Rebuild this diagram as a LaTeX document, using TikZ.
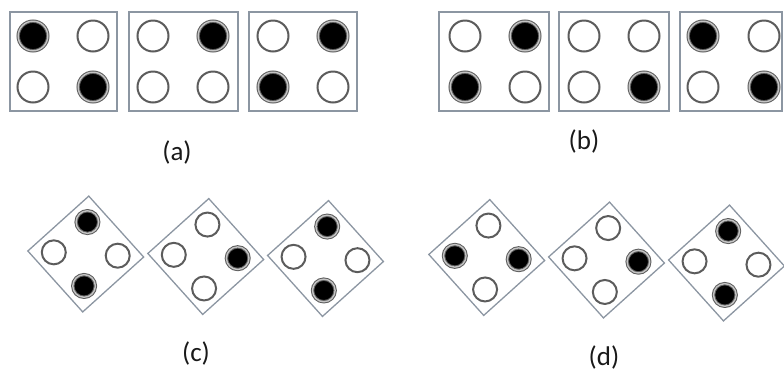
\documentclass[tikz,border=0pt]{standalone}
\usepackage{fontspec}
\setmainfont{Carlito}
\definecolor{framegray}{HTML}{8C96A2}
\definecolor{ringdark}{HTML}{5C5C5C}
\definecolor{ringlight}{HTML}{C4C4C4}
\begin{document}
\begin{tikzpicture}[x=1pt,y=-1pt,
  card/.style={draw=framegray, line width=1.5pt, inner sep=0pt,
    minimum width=#1, minimum height=99pt},
  diam/.style={draw=framegray, line width=1.3pt, inner sep=0pt,
    minimum size=82pt, rotate=42},
  holeE/.style={circle, inner sep=0pt, minimum size=#1, draw=ringdark,
    line width=2pt, fill=white},
  holeF/.style={circle, inner sep=0pt, minimum size=#1, fill=black,
    draw=ringdark, double=ringlight, double distance=1.4pt, line width=1pt},
  tag/.style={font=\fontsize{27}{32}\selectfont, text=black!90, inner sep=0pt}]
\useasboundingbox (0,0) rectangle (784,376);

% ---- row (a): three square cards ----
\node[card=107pt] (a1) at (63.5,61.5) {};
\node[holeF=29.6pt] (a1tl) at (33,36) {};
\node[holeE=31pt]   (a1tr) at (93,36) {};
\node[holeE=31pt]   (a1bl) at (33,87) {};
\node[holeF=29.6pt] (a1br) at (93,87) {};

\node[card=109pt] (a2) at (183.5,61.5) {};
\node[holeE=31pt]   (a2tl) at (153,36) {};
\node[holeF=29.6pt] (a2tr) at (213,36) {};
\node[holeE=31pt]   (a2bl) at (153,87) {};
\node[holeE=31pt]   (a2br) at (213,87) {};

\node[card=108pt] (a3) at (303,61.5) {};
\node[holeE=31pt]   (a3tl) at (273,36) {};
\node[holeF=29.6pt] (a3tr) at (333,36) {};
\node[holeF=29.6pt] (a3bl) at (273,87) {};
\node[holeE=31pt]   (a3br) at (333,87) {};

\node[tag] (la) at (177,152) {(a)};

% ---- row (b): three square cards ----
\node[card=110pt] (b1) at (494,61.5) {};
\node[holeE=31pt]   (b1tl) at (465,36) {};
\node[holeF=29.6pt] (b1tr) at (525,36) {};
\node[holeF=29.6pt] (b1bl) at (465,87) {};
\node[holeE=31pt]   (b1br) at (525,87) {};

\node[card=110pt] (b2) at (614,61.5) {};
\node[holeE=31pt]   (b2tl) at (584,36) {};
\node[holeE=31pt]   (b2tr) at (644,36) {};
\node[holeE=31pt]   (b2bl) at (584,87) {};
\node[holeF=29.6pt] (b2br) at (644,87) {};

\node[card=102pt] (b3) at (731,61.5) {};
\node[holeF=29.6pt] (b3tl) at (703,36) {};
\node[holeE=31pt]   (b3tr) at (764,36) {};
\node[holeE=31pt]   (b3bl) at (703,87) {};
\node[holeF=29.6pt] (b3br) at (764,87) {};

\node[tag] (lb) at (584,141) {(b)};

% ---- row (c): three tilted diamonds ----
\begin{scope}[shift={(85.75,254)}, rotate=-3]
  \node[diam] (c1) at (0,0) {};
  \node[holeF=22.6pt] (c1t) at (0,-32) {};
  \node[holeE=24pt]   (c1l) at (-32,0) {};
  \node[holeE=24pt]   (c1r) at (32,0) {};
  \node[holeF=22.6pt] (c1b) at (0,32) {};
\end{scope}
\begin{scope}[shift={(205.75,256.5)}, rotate=-3]
  \node[diam] (c2) at (0,0) {};
  \node[holeE=24pt]   (c2t) at (0,-32) {};
  \node[holeE=24pt]   (c2l) at (-32,0) {};
  \node[holeF=22.6pt] (c2r) at (32,0) {};
  \node[holeE=24pt]   (c2b) at (0,32) {};
\end{scope}
\begin{scope}[shift={(325.5,258.5)}, rotate=-3]
  \node[diam] (c3) at (0,0) {};
  \node[holeF=22.6pt] (c3t) at (0,-32) {};
  \node[holeE=24pt]   (c3l) at (-32,0) {};
  \node[holeE=24pt]   (c3r) at (32,0) {};
  \node[holeF=22.6pt] (c3b) at (0,32) {};
\end{scope}

\node[tag] (lc) at (196,353) {(c)};

% ---- row (d): three tilted diamonds ----
\begin{scope}[shift={(486.75,257.5)}, rotate=-3]
  \node[diam] (d1) at (0,0) {};
  \node[holeE=24pt]   (d1t) at (0,-32) {};
  \node[holeF=22.6pt] (d1l) at (-32,0) {};
  \node[holeF=22.6pt] (d1r) at (32,0) {};
  \node[holeE=24pt]   (d1b) at (0,32) {};
\end{scope}
\begin{scope}[shift={(606.5,260)}, rotate=-3]
  \node[diam] (d2) at (0,0) {};
  \node[holeE=24pt]   (d2t) at (0,-32) {};
  \node[holeE=24pt]   (d2l) at (-32,0) {};
  \node[holeF=22.6pt] (d2r) at (32,0) {};
  \node[holeE=24pt]   (d2b) at (0,32) {};
\end{scope}
\begin{scope}[shift={(726.5,263)}, rotate=-3]
  \node[diam] (d3) at (0,0) {};
  \node[holeF=22.6pt] (d3t) at (0,-32) {};
  \node[holeE=24pt]   (d3l) at (-32,0) {};
  \node[holeE=24pt]   (d3r) at (32,0) {};
  \node[holeF=22.6pt] (d3b) at (0,32) {};
\end{scope}

\node[tag] (ld) at (604,357) {(d)};
\end{tikzpicture}
\end{document}
